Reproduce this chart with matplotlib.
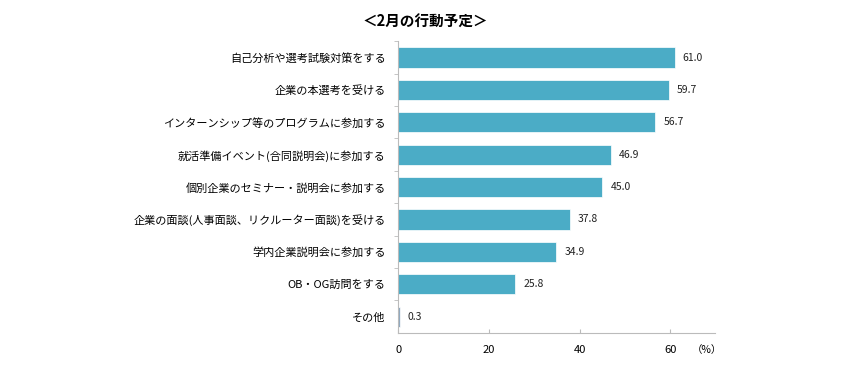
import matplotlib.pyplot as plt

plt.rcParams['font.family'] = ['Noto Sans CJK JP', 'DejaVu Sans']

categories = [
    "自己分析や選考試験対策をする",
    "企業の本選考を受ける",
    "インターンシップ等のプログラムに参加する",
    "就活準備イベント(合同説明会)に参加する",
    "個別企業のセミナー・説明会に参加する",
    "企業の面談(人事面談、リクルーター面談)を受ける",
    "学内企業説明会に参加する",
    "OB・OG訪問をする",
    "その他",
]
values = [61.0, 59.7, 56.7, 46.9, 45.0, 37.8, 34.9, 25.8, 0.3]
bar_colors = ["#4bacc6"] * 8 + ["#8fa9c0"]
x_ticks = [0, 20, 40, 60]

fig = plt.figure(figsize=(8.62, 3.69), dpi=100)
ax = fig.add_axes([0.462, 0.098, 0.368, 0.79])

pos = list(range(len(categories)))
ax.barh(pos, values, height=0.62, color=bar_colors, edgecolor="white", linewidth=0.5)
ax.set_ylim(len(categories) - 0.5, -0.5)
ax.set_xlim(0, 70)

for p, v in zip(pos, values):
    ax.text(v + 1.8, p, f"{v:.1f}", va="center", ha="left", fontsize=7.5, color="#222222")

ax.set_yticks(pos)
ax.set_yticklabels(categories, fontsize=8)
ax.set_yticks([p + 0.5 for p in pos[:-1]] + [-0.5], minor=True)
ax.tick_params(axis="y", which="major", length=0, pad=9)
ax.tick_params(axis="y", which="minor", length=3, color="#bbbbbb", direction="out")

ax.set_xticks(x_ticks)
ax.set_xticklabels([str(t) for t in x_ticks], fontsize=8)
ax.tick_params(axis="x", length=3, direction="in", color="#bbbbbb", pad=9)

for s in ["top", "right"]:
    ax.spines[s].set_visible(False)
for s in ["left", "bottom"]:
    ax.spines[s].set_color("#bbbbbb")
    ax.spines[s].set_linewidth(0.8)

ax.text(1.02, -0.058, "（%）", transform=ax.transAxes, ha="right", va="center", fontsize=7.5)
fig.text(0.494, 0.94, "＜2月の行動予定＞", ha="center", va="center", fontsize=10.5, fontweight="bold")

fig.savefig("out.png", dpi=100)
